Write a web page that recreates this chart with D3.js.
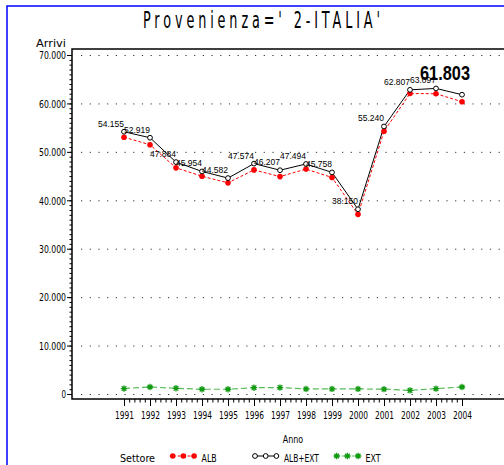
<!DOCTYPE html>
<html>
<head>
<meta charset="utf-8">
<script src="https://cdn.jsdelivr.net/npm/d3@7"></script>
<style>
  body { margin: 0; background: #fff; }
  svg { display: block; }
</style>
</head>
<body>
<div id="chart"></div>
<script>
// data
const years = [1991, 1992, 1993, 1994, 1995, 1996, 1997, 1998, 1999, 2000, 2001, 2002, 2003, 2004];
const albExt = [54155, 52919, 47884, 45954, 44582, 47574, 46207, 47494, 45758, 38150, 55240, 62807, 63097, 61803];
const alb = [53030, 51470, 46700, 44970, 43600, 46270, 44890, 46440, 44710, 37100, 54240, 62050, 62000, 60350];
const ext = [1120, 1450, 1180, 980, 980, 1300, 1320, 1050, 1050, 1050, 1000, 750, 1100, 1450];
const yTicks = [0, 10000, 20000, 30000, 40000, 50000, 60000, 70000];
const legendNames = ["ALB", "ALB+EXT", "EXT"];

const W = 504, H = 465;
const plot = {left: 72, top: 49, right: 514, bottom: 399};

const fmt = d3.formatLocale({decimal: ",", thousands: ".", grouping: [3], currency: ["", ""]}).format(",d");

const svg = d3.select("#chart").append("svg")
    .attr("width", W)
    .attr("height", H);

// outer blue border
svg.append("rect")
    .attr("x", 7).attr("y", 6)
    .attr("width", 600).attr("height", 600)
    .attr("fill", "none")
    .attr("stroke", "#0000ff")
    .attr("stroke-width", 1.5);

// narrow "plotter" style text, squeezed to a fixed advance per char
function sasText(g, x, y, str, adv, anchor) {
    return g.append("text")
        .attr("x", x).attr("y", y)
        .attr("text-anchor", anchor || "start")
        .attr("font-family", "'Liberation Sans Narrow', 'DejaVu Sans Condensed', sans-serif")
        .attr("font-size", 10.5)
        .attr("textLength", str.length * adv)
        .attr("lengthAdjust", "spacingAndGlyphs")
        .attr("fill", "#000")
        .text(str);
}

// title: thin tall glyphs, wide spacing
var tScale = 0.62;
svg.append("text")
    .attr("transform", "translate(261.5,28) scale(" + tScale + ",1)")
    .attr("text-anchor", "middle")
    .attr("font-family", "'Liberation Sans Narrow', 'DejaVu Sans Condensed', sans-serif")
    .attr("font-size", 23)
    .attr("textLength", 237 / tScale)
    .attr("lengthAdjust", "spacing")
    .text("Provenienza=' 2-ITALIA'");

var x = d3.scaleLinear().domain([1989, 2006]).range([plot.left, plot.right]);
var y = d3.scaleLinear().domain([0, 70000]).range([394, 55]);

// dotted grid
svg.append("g")
    .selectAll("line")
    .data(yTicks)
    .enter().append("line")
    .attr("x1", plot.left + 9).attr("x2", W)
    .attr("y1", d => y(d) + 0.5).attr("y2", d => y(d) + 0.5)
    .attr("stroke", "#333")
    .attr("stroke-dasharray", "1.2,7.5");

// plot frame (right side falls outside the window)
svg.append("path")
    .attr("d", "M" + plot.right + "," + plot.top + "H" + plot.left + "V" + plot.bottom + "H" + plot.right)
    .attr("fill", "none")
    .attr("stroke", "#000")
    .attr("stroke-width", 1.5);

// Y axis: majors + minors every 1000
var yMinor = svg.append("g")
    .attr("transform", "translate(" + plot.left + ",0)")
    .call(d3.axisLeft(y).tickValues(d3.range(0, 70001, 1000)).tickSize(2.5).tickFormat(""));
yMinor.select(".domain").remove();

var yAxis = svg.append("g")
    .attr("transform", "translate(" + plot.left + ",0)")
    .call(d3.axisLeft(y).tickValues(yTicks).tickSize(5).tickPadding(1).tickFormat(fmt));
yAxis.select(".domain").remove();
yAxis.selectAll("text")
    .attr("font-family", "'Liberation Sans Narrow', 'DejaVu Sans Condensed', sans-serif")
    .attr("font-size", 10.5)
    .attr("dy", "0.36em")
    .each(function(d) {
        var s = fmt(d);
        d3.select(this).attr("textLength", s.length * 4.5).attr("lengthAdjust", "spacingAndGlyphs");
    });

sasText(svg, 66, 47, "Arrivi", 5, "end");

// X axis: years + 4 minors in between
var xMinor = svg.append("g")
    .attr("transform", "translate(0," + plot.bottom + ")")
    .call(d3.axisBottom(x).tickValues(d3.range(1991, 2004.01, 0.2)).tickSize(3.5).tickFormat(""));
xMinor.select(".domain").remove();

var xAxis = svg.append("g")
    .attr("transform", "translate(0," + plot.bottom + ")")
    .call(d3.axisBottom(x).tickValues(years).tickSize(7).tickPadding(6).tickFormat(d3.format("d")));
xAxis.select(".domain").remove();
xAxis.selectAll("text")
    .attr("font-family", "'Liberation Sans Narrow', 'DejaVu Sans Condensed', sans-serif")
    .attr("font-size", 10.5)
    .attr("textLength", 19)
    .attr("lengthAdjust", "spacingAndGlyphs");

sasText(svg, (plot.left + plot.right) / 2, 443, "Anno", 5.1, "middle");

// series lines
var line = (vals) => d3.line().x((d, i) => x(years[i])).y(d => y(d))(vals);

svg.append("path")
    .attr("d", line(ext))
    .attr("fill", "none")
    .attr("stroke", "#55bb55")
    .attr("stroke-width", 1.2)
    .attr("stroke-dasharray", "6,3");

svg.append("path")
    .attr("d", line(alb))
    .attr("fill", "none")
    .attr("stroke", "#ff0000")
    .attr("stroke-width", 1)
    .attr("stroke-dasharray", "3,2");

svg.append("path")
    .attr("d", line(albExt))
    .attr("fill", "none")
    .attr("stroke", "#000")
    .attr("stroke-width", 1);

function starPath(cx, cy, r) {
    var q = r * 0.72;
    return "M" + (cx - r) + "," + cy + "H" + (cx + r) +
        "M" + cx + "," + (cy - r) + "V" + (cy + r) +
        "M" + (cx - q) + "," + (cy - q) + "L" + (cx + q) + "," + (cy + q) +
        "M" + (cx - q) + "," + (cy + q) + "L" + (cx + q) + "," + (cy - q);
}

// markers
svg.append("g").selectAll("path")
    .data(ext)
    .enter().append("path")
    .attr("d", (d, i) => starPath(x(years[i]), y(d), 3.2))
    .attr("stroke", "#119911")
    .attr("stroke-width", 1.3);

svg.append("g").selectAll("circle")
    .data(alb)
    .enter().append("circle")
    .attr("cx", (d, i) => x(years[i]))
    .attr("cy", d => y(d))
    .attr("r", 2.8)
    .attr("fill", "#ff0000");

svg.append("g").selectAll("circle")
    .data(albExt)
    .enter().append("circle")
    .attr("cx", (d, i) => x(years[i]))
    .attr("cy", d => y(d))
    .attr("r", 2.4)
    .attr("fill", "#fff")
    .attr("stroke", "#000")
    .attr("stroke-width", 1);

// value labels on ALB+EXT, last one highlighted
var last = albExt.length - 1;
svg.append("g").selectAll("text")
    .data(albExt)
    .enter().append("text")
    .attr("x", (d, i) => x(years[i]) + (i === last ? 8 : 0))
    .attr("y", (d, i) => y(d) - (i === last ? 15 : 5))
    .attr("text-anchor", "end")
    .attr("font-family", "'Liberation Sans', Arial, sans-serif")
    .attr("font-size", (d, i) => i === last ? 21 : 9.5)
    .attr("font-weight", (d, i) => i === last ? "bold" : "normal")
    .attr("textLength", (d, i) => i === last ? 50 : 26)
    .attr("lengthAdjust", "spacingAndGlyphs")
    .text(d => fmt(d));

// legend
var legY = 456;
sasText(svg, 120, 461.5, "Settore", 5);
var legX = [172.7, 255, 336.7];
var step = 10.7;

var lg0 = svg.append("g");
lg0.append("line").attr("x1", legX[0]).attr("x2", legX[0] + 2 * step)
    .attr("y1", legY).attr("y2", legY)
    .attr("stroke", "#ff0000").attr("stroke-dasharray", "3,2");
lg0.selectAll("circle").data([0, 1, 2]).enter().append("circle")
    .attr("cx", d => legX[0] + d * step).attr("cy", legY).attr("r", 2.8)
    .attr("fill", "#ff0000");

var lg1 = svg.append("g");
lg1.append("line").attr("x1", legX[1]).attr("x2", legX[1] + 2 * step)
    .attr("y1", legY).attr("y2", legY)
    .attr("stroke", "#000");
lg1.selectAll("circle").data([0, 1, 2]).enter().append("circle")
    .attr("cx", d => legX[1] + d * step).attr("cy", legY).attr("r", 2.4)
    .attr("fill", "#fff").attr("stroke", "#000");

var lg2 = svg.append("g");
lg2.append("line").attr("x1", legX[2]).attr("x2", legX[2] + 2 * step)
    .attr("y1", legY).attr("y2", legY)
    .attr("stroke", "#55bb55").attr("stroke-width", 1.2).attr("stroke-dasharray", "3,2");
lg2.selectAll("path").data([0, 1, 2]).enter().append("path")
    .attr("d", d => starPath(legX[2] + d * step, legY, 3.2))
    .attr("stroke", "#119911").attr("stroke-width", 1.3);

legendNames.forEach(function(name, i) {
    sasText(svg, legX[i] + 2 * step + 7.5, 461.5, name, 5);
});
</script>
</body>
</html>
